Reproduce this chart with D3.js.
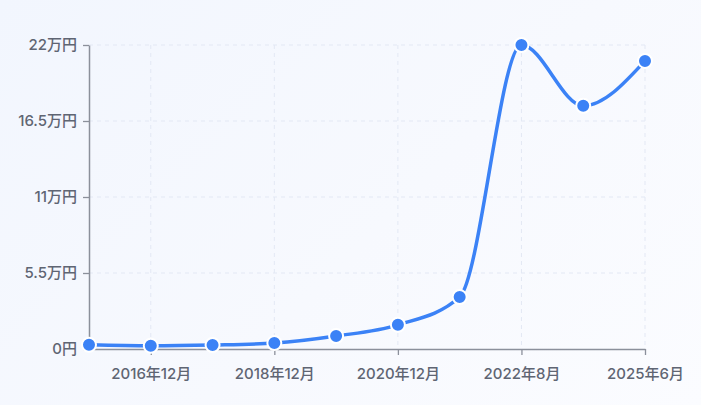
<!DOCTYPE html>
<html><head><meta charset="utf-8">
<script src="https://cdn.jsdelivr.net/npm/d3@7"></script>
<style>
html,body{margin:0;padding:0;}
body{width:701px;height:405px;overflow:hidden;background:linear-gradient(135deg,#f2f6fe 0%,#f7f9fe 55%,#fbfcff 100%);}
svg{display:block;font-family:Inter,"Noto Sans CJK JP",sans-serif;}
</style></head>
<body>
<svg id="chart" width="701" height="405"></svg>
<script>
const categories = ["2015年12月","2016年12月","2017年12月","2018年12月","2019年12月","2020年12月","2021年12月","2022年8月","2024年1月","2025年6月"];
const values = [3000, 2300, 2900, 4300, 9400, 17500, 37600, 220000, 176000, 208500];
const xTickLabels = ["2016年12月","2018年12月","2020年12月","2022年8月","2025年6月"];
const yTicks = [0, 55000, 110000, 165000, 220000];

const W = 701, H = 405, m = {l:89, r:56, t:45, b:56};
const svg = d3.select("#chart");
const x = d3.scalePoint().domain(categories).range([m.l, W - m.r]);
const y = d3.scaleLinear().domain([0, 220000]).range([H - m.b, m.t]);
const fmt = v => v === 0 ? "0円" : (v / 10000) + "万円";

// grid
svg.append("g").selectAll("line").data(yTicks.filter(d => d > 0)).join("line")
  .attr("x1", m.l).attr("x2", W - m.r).attr("y1", d => y(d)).attr("y2", d => y(d))
  .attr("stroke", "#e3e8f4").attr("stroke-width", 1).attr("stroke-dasharray", "4,4");
svg.append("g").selectAll("line").data(xTickLabels).join("line")
  .attr("x1", d => x(d)).attr("x2", d => x(d)).attr("y1", m.t).attr("y2", H - m.b)
  .attr("stroke", "#e3e8f4").attr("stroke-width", 1).attr("stroke-dasharray", "4,4");

// axes
const xAxis = svg.append("g").attr("transform", `translate(0,${H - m.b})`)
  .call(d3.axisBottom(x).tickValues(xTickLabels).tickSize(6).tickPadding(13).tickSizeOuter(0));
const yAxis = svg.append("g").attr("transform", `translate(${m.l},0)`)
  .call(d3.axisLeft(y).tickValues(yTicks).tickFormat(fmt).tickSize(6).tickPadding(6).tickSizeOuter(0));
[xAxis, yAxis].forEach(g => {
  g.select(".domain").attr("stroke", "#8b909b").attr("stroke-width", 1.5);
  g.selectAll(".tick line").attr("stroke", "#8b909b").attr("stroke-width", 1.3);
  g.selectAll(".tick text").attr("fill", "#5f6573").attr("font-size", 15).attr("font-weight", 500)
    .attr("font-family", 'Inter,"Noto Sans CJK JP",sans-serif');
});

// line
const data = categories.map((c, i) => ({c, v: values[i]}));
const line = d3.line().x(d => x(d.c)).y(d => y(d.v)).curve(d3.curveMonotoneX);
svg.append("path").datum(data).attr("d", line)
  .attr("fill", "none").attr("stroke", "#3b82f6").attr("stroke-width", 3.5)
  .attr("stroke-linecap", "round").attr("stroke-linejoin", "round");
svg.append("g").selectAll("circle").data(data).join("circle")
  .attr("cx", d => x(d.c)).attr("cy", d => y(d.v)).attr("r", 7)
  .attr("fill", "#3b82f6").attr("stroke", "#fff").attr("stroke-width", 2);
</script>
</body></html>
